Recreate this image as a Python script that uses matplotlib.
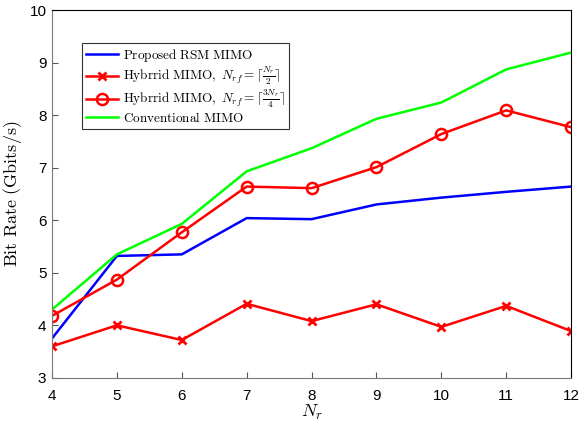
import numpy as np
import matplotlib.pyplot as plt

plt.rcParams['mathtext.fontset'] = 'cm'
plt.rcParams['font.family'] = ['Liberation Sans', 'DejaVu Sans']

# data
nr = [4, 5, 6, 7, 8, 9, 10, 11, 12]
rsm = [3.75, 5.32, 5.35, 6.04, 6.02, 6.30, 6.43, 6.54, 6.64]
hyb_half = [3.60, 4.00, 3.72, 4.41, 4.08, 4.40, 3.97, 4.37, 3.89]
hyb_34 = [4.18, 4.87, 5.77, 6.64, 6.61, 7.01, 7.64, 8.09, 7.77]
conv = [4.30, 5.35, 5.93, 6.93, 7.37, 7.93, 8.24, 8.87, 9.19]

fig = plt.figure(figsize=(5.81, 4.26), dpi=100)
ax = fig.add_axes([0.0895, 0.113, 0.8935, 0.8635])

ax.plot(nr, rsm, color='#0000ff', lw=1.8, label=r'$\mathrm{Proposed\ RSM\ MIMO}$')
ax.plot(nr, hyb_half, color='#ff0000', lw=1.8, marker='x', ms=6, mew=2,
        label=r'$\mathrm{Hybrrid\ MIMO,}\ N_{rf}=\lceil\frac{N_r}{2}\rceil$')
ax.plot(nr, hyb_34, color='#ff0000', lw=1.8, marker='o', ms=8, mfc='none', mew=1.8,
        label=r'$\mathrm{Hybrrid\ MIMO,}\ N_{rf}=\lceil\frac{3N_r}{4}\rceil$')
ax.plot(nr, conv, color='#00ff00', lw=1.8, label=r'$\mathrm{Conventional\ MIMO}$')

ax.set_xlim(4, 12)
ax.set_ylim(3, 10)
ax.set_xticks(nr)
ax.set_yticks(range(3, 11))
ax.tick_params(direction='in', labelsize=11, length=4, color='#555555')
ax.tick_params(axis='x', pad=8)
ax.tick_params(axis='y', pad=4)
for s in ['left', 'bottom']:
    ax.spines[s].set_color('#777777')
ax.spines['top'].set_color('black')
ax.spines['right'].set_color('black')
ax.set_xlabel(r'$N_r$', fontsize=13, labelpad=0)
ax.set_ylabel(r'$\mathrm{Bit\ Rate\ (Gbits/s)}$', fontsize=13, labelpad=4)

leg = ax.legend(loc='upper left', bbox_to_anchor=(0.058, 0.91), fontsize=9.5,
                fancybox=False, edgecolor='#333333', framealpha=1,
                handlelength=2.4, handletextpad=0.4, labelspacing=0.05,
                borderpad=0.3, borderaxespad=0)
leg.get_frame().set_linewidth(0.8)

fig.savefig('out.png', dpi=100)
